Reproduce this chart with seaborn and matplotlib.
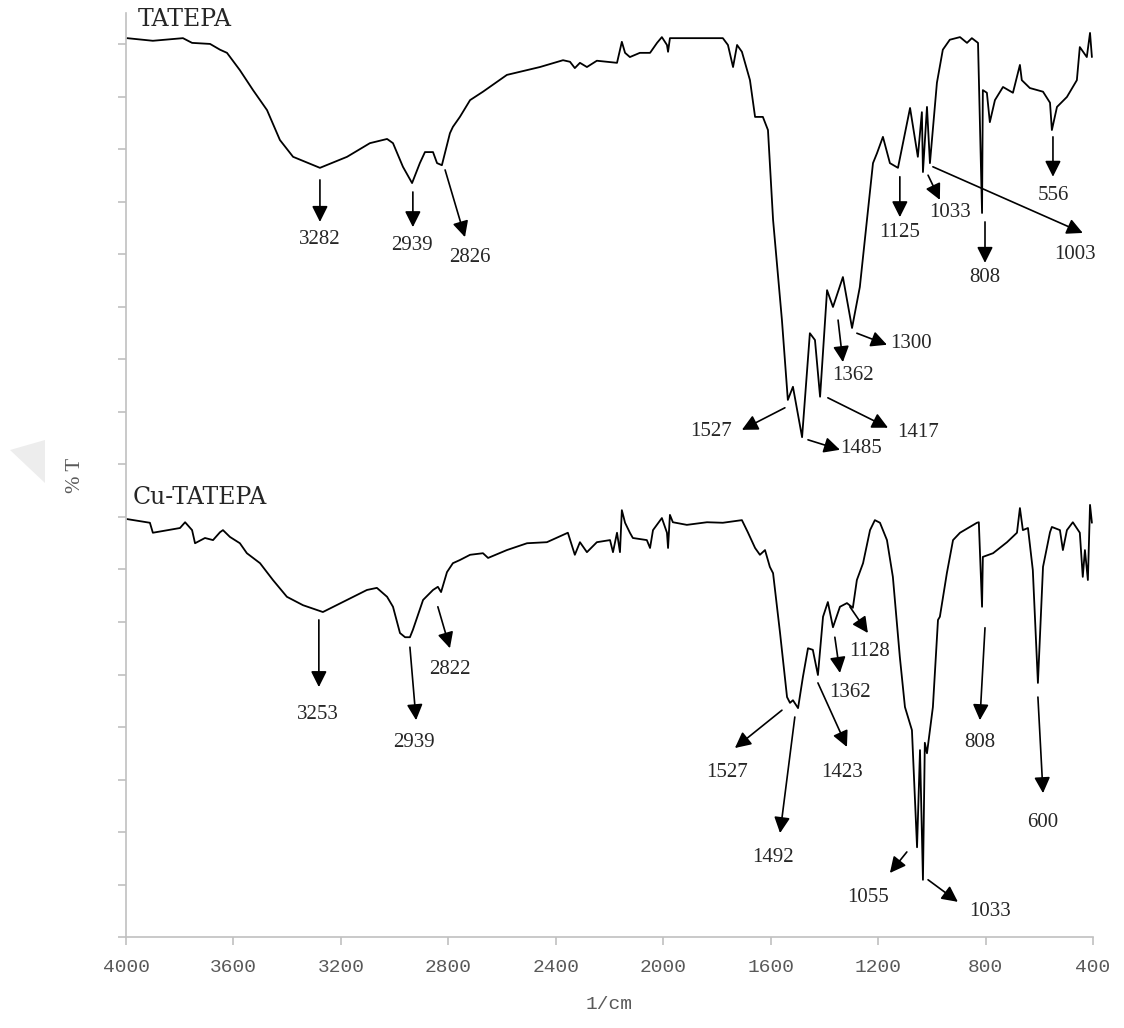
import numpy as np
import pandas as pd
import seaborn as sns
import matplotlib.pyplot as plt
from matplotlib.patches import Polygon

# FTIR spectra (wavenumber in 1/cm, %T in axis units)
wn_tatepa = [3996, 3900, 3788, 3754, 3687, 3650, 3624, 3576, 3527, 3475, 3427, 3378,
             3278, 3177, 3092, 3028, 3006, 2969, 2935, 2906, 2887, 2857, 2842, 2824,
             2794, 2783, 2757, 2719, 2671, 2582, 2459, 2373, 2347, 2329, 2310, 2284,
             2247, 2172, 2154, 2142, 2124, 2087, 2049, 2023, 2005, 1986, 1982, 1975,
             1889, 1778, 1759, 1740, 1725, 1707, 1677, 1658, 1629, 1610, 1591, 1558,
             1536, 1517, 1483, 1454, 1435, 1416, 1390, 1368, 1331, 1297, 1268, 1219,
             1204, 1182, 1156, 1126, 1081, 1052, 1037, 1033, 1018, 1007, 981, 959,
             933, 895, 869, 851, 828, 813, 810, 795, 784, 765, 735, 698, 672, 665,
             635, 586, 560, 553, 534, 497, 460, 449, 423, 411, 404]
t_tatepa = [171.2, 170.7, 171.2, 170.3, 170.1, 169.0, 168.4, 165.1, 161.3, 157.5, 151.8, 148.6,
            146.5, 148.6, 151.2, 152.0, 151.2, 146.7, 143.6, 147.4, 149.5, 149.5, 147.4, 147.0,
            153.1, 154.3, 156.2, 159.4, 161.0, 164.2, 165.7, 167.0, 166.7, 165.5, 166.5, 165.7,
            166.9, 166.5, 170.5, 168.4, 167.6, 168.4, 168.4, 170.3, 171.4, 169.9, 168.6, 171.2,
            171.2, 171.2, 169.9, 165.7, 169.9, 168.6, 163.2, 156.2, 156.2, 153.7, 136.6, 117.5,
            102.3, 104.8, 95.2, 115.0, 113.7, 102.9, 123.2, 120.0, 125.7, 116.0, 123.8, 147.4,
            149.3, 152.4, 147.4, 146.5, 157.9, 148.6, 157.1, 145.7, 158.1, 147.4, 162.7, 169.0,
            170.9, 171.4, 170.3, 171.2, 170.3, 137.9, 161.3, 160.8, 155.2, 159.4, 161.9, 160.8, 166.1, 163.2,
            161.7, 161.0, 158.9, 153.7, 158.1, 160.0, 163.2, 169.5, 167.6, 172.2, 167.6]

wn_cu = [3996, 3911, 3900, 3844, 3799, 3780, 3754, 3743, 3706, 3676, 3650, 3639,
         3613, 3576, 3550, 3501, 3453, 3401, 3341, 3267, 3177, 3103, 3066, 3028,
         3006, 2980, 2961, 2943, 2932, 2894, 2857, 2839, 2827, 2805, 2783, 2757,
         2719, 2671, 2652, 2582, 2507, 2433, 2373, 2355, 2329, 2310, 2284, 2247,
         2198, 2187, 2172, 2161, 2154, 2142, 2124, 2113, 2061, 2049, 2038, 2005,
         1986, 1982, 1975, 1964, 1912, 1837, 1778, 1707, 1685, 1658, 1640, 1621,
         1603, 1591, 1565, 1539, 1528, 1517, 1498, 1480, 1461, 1443, 1424, 1405,
         1387, 1368, 1342, 1316, 1294, 1279, 1256, 1230, 1212, 1193, 1167, 1145,
         1119, 1100, 1074, 1055, 1044, 1033, 1026, 1018, 996, 977, 970, 944,
         921, 895, 832, 825, 813, 810, 772, 720, 683, 672, 661, 642,
         624, 605, 586, 560, 553, 523, 512, 497, 475, 449, 438, 430,
         419, 411, 404]
t_cu = [79.6, 78.9, 77.0, 77.5, 77.9, 79.0, 77.5, 75.0, 76.0, 75.6, 77.1, 77.5,
        76.2, 75.0, 73.1, 71.2, 68.0, 64.8, 63.2, 61.9, 64.2, 66.1, 66.5, 64.8,
        62.9, 57.9, 57.1, 57.1, 58.5, 64.2, 66.1, 66.7, 65.7, 69.5, 71.2, 71.8,
        72.8, 73.1, 72.2, 73.7, 75.0, 75.2, 76.6, 77.0, 72.8, 75.2, 73.3, 75.2,
        75.6, 73.3, 77.0, 73.3, 81.3, 78.9, 77.0, 76.0, 75.6, 74.1, 77.5, 79.8,
        77.0, 74.1, 80.4, 79.0, 78.5, 79.0, 78.9, 79.4, 77.1, 74.1, 72.8, 73.7,
        70.5, 69.3, 57.9, 45.7, 44.6, 45.1, 43.6, 49.5, 55.0, 54.7, 49.9, 61.0,
        63.8, 59.0, 62.9, 63.6, 62.7, 68.0, 71.2, 77.5, 79.4, 78.9, 75.6, 68.6,
        53.3, 43.8, 39.4, 17.1, 35.6, 10.9, 37.0, 35.0, 43.8, 60.4, 61.0, 69.3,
        75.6, 77.0, 78.9, 79.0, 62.9, 72.4, 73.1, 75.2, 77.0, 81.7, 77.5, 77.9,
        69.9, 48.4, 70.5, 77.1, 78.1, 77.5, 73.7, 77.5, 79.0, 77.0, 68.6, 73.7,
        68.0, 82.3, 78.9]

# peak labels
peaks_tatepa = ['3282', '2939', '2826', '1125', '1033', '1003', '808', '556',
                '1362', '1300', '1527', '1485', '1417']
peaks_cu = ['3253', '2939', '2822', '1527', '1492', '1423', '1362', '1128',
            '1055', '1033', '808', '600']

# arrow layout: (tail, head, text position, ha)
arrows_tatepa = [((3278, 144.2), (3278, 136.2), (3278, 132.8), 'center'),
                 ((2932, 141.9), (2932, 135.2), (2935, 131.8), 'center'),
                 ((2812, 146.1), (2738, 133.3), (2719, 129.5), 'center'),
                 ((1119, 144.8), (1119, 137.1), (1119, 134.1), 'center'),
                 ((1014, 145.1), (970, 140.4), (933, 137.9), 'center'),
                 ((996, 146.7), (438, 134.1), (467, 129.9), 'center'),
                 ((802, 136.2), (802, 128.4), (802, 125.7), 'center'),
                 ((549, 152.4), (549, 144.8), (549, 141.3), 'center'),
                 ((1349, 117.5), (1331, 109.5), (1294, 106.9), 'center'),
                 ((1279, 115.0), (1167, 112.8), (1156, 113.0), 'left'),
                 ((1547, 100.8), (1707, 96.6), (1744, 96.2), 'right'),
                 ((1461, 94.7), (1342, 92.8), (1342, 93.1), 'left'),
                 ((1387, 102.7), (1163, 97.0), (1130, 96.0), 'left')]
arrows_cu = [((3282, 60.4), (3282, 47.6), (3285, 42.3), 'center'),
             ((2943, 55.2), (2920, 41.3), (2928, 37.0), 'center'),
             ((2839, 62.9), (2794, 55.0), (2794, 50.9), 'center'),
             ((1558, 43.2), (1733, 36.0), (1763, 31.4), 'center'),
             ((1510, 41.9), (1565, 19.8), (1591, 15.2), 'center'),
             ((1424, 48.4), (1316, 36.2), (1335, 31.4), 'center'),
             ((1361, 57.1), (1342, 50.3), (1305, 46.5), 'center'),
             ((1305, 62.9), (1238, 57.9), (1230, 54.3), 'center'),
             ((1093, 16.2), (1156, 12.2), (1238, 7.6), 'center'),
             ((1014, 10.9), (903, 6.7), (784, 4.8), 'center'),
             ((802, 58.9), (821, 41.3), (821, 37.0), 'center'),
             ((605, 45.7), (586, 27.4), (586, 21.9), 'center')]

df_a = pd.DataFrame({'wn': wn_tatepa, 'T': t_tatepa})
df_b = pd.DataFrame({'wn': wn_cu, 'T': t_cu})

sns.set_theme(style='white')
plt.rcParams['font.family'] = ['Liberation Serif', 'DejaVu Serif']

fig = plt.figure(figsize=(11.24, 10.28), dpi=100)
ax = fig.add_axes([0.1121, 0.0885, 0.8603, 0.8989])

sns.lineplot(data=df_a, x='wn', y='T', estimator=None, sort=False,
             color='black', lw=1.3, ax=ax)
sns.lineplot(data=df_b, x='wn', y='T', estimator=None, sort=False,
             color='black', lw=1.3, ax=ax)

ax.set_xlim(4000, 400)
ax.set_ylim(0, 176)
ax.set_xticks(np.arange(4000, 399, -400))
ax.set_yticks(np.arange(0, 171, 10))
ax.set_yticklabels([])

for s in ['top', 'right']:
    ax.spines[s].set_visible(False)
for s in ['left', 'bottom']:
    ax.spines[s].set_color('#c0c0c0')
    ax.spines[s].set_linewidth(1.2)
ax.tick_params(axis='both', direction='out', length=6, width=1.2,
               color='#c0c0c0', left=True, bottom=True)
ax.tick_params(axis='x', pad=10, labelsize=14, labelcolor='#595959')
for lab in ax.get_xticklabels():
    lab.set_family('Liberation Mono')

ax.set_xlabel('1/cm', family='Liberation Mono', fontsize=14, color='#595959', labelpad=14)
ax.set_ylabel('% T', fontsize=15, color='#595959', labelpad=20)

ax.text(3955, 174.7, 'TATEPA', family='DejaVu Serif', fontsize=17, va='center', ha='left')
ax.text(3974, 83.8, 'Cu-TATEPA', family='DejaVu Serif', fontsize=17, va='center', ha='left')

aprops = dict(arrowstyle='-|>', color='black', lw=1.2, mutation_scale=24,
              shrinkA=0, shrinkB=0)
for labels, arrows in [(peaks_tatepa, arrows_tatepa), (peaks_cu, arrows_cu)]:
    for lab, (tail, head, txt, ha) in zip(labels, arrows):
        ax.annotate('', xy=head, xytext=tail, arrowprops=aprops)
        ax.text(txt[0], txt[1], lab, fontsize=15, ha=ha, va='center')

# faint grey mark left of the axis label
fig.add_artist(Polygon([[10 / 1124, 1 - 450 / 1028], [45 / 1124, 1 - 440 / 1028],
                        [45 / 1124, 1 - 483 / 1028]], closed=True,
                       transform=fig.transFigure, color='#ededed', lw=0))

fig.savefig('out.png', dpi=100)
